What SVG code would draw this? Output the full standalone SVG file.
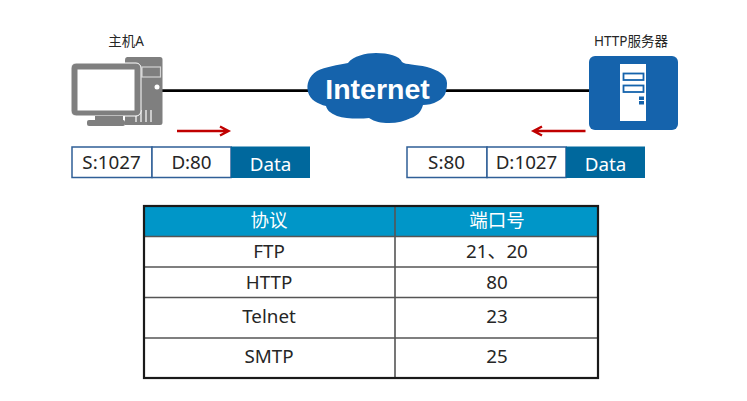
<svg xmlns="http://www.w3.org/2000/svg" width="747" height="401" viewBox="0 0 747 401">
<defs>
<style>
text{font-family:"Noto Sans","Noto Sans CJK SC",sans-serif;text-anchor:middle;fill:#262626}
.lab{font-size:13.500px}
.f{font-size:18.800px}
.cell{fill:#fff;stroke:#2f5f97;stroke-width:1.500}
.data{fill:#00689d}
.dt{fill:#fff;font-size:18.800px}
.wire{stroke:#000;stroke-width:2.800;fill:none}
.red{stroke:#c00000;stroke-width:2.400;fill:none}
.g{fill:#7f7f7f}
.b{fill:#1563ac}
.slot{fill:#fff;stroke:#1563ac;stroke-width:1.800}
.t{font-size:18.800px}
.h{fill:#fff;font-size:18.500px}
.grid{stroke:#555;stroke-width:1.600;fill:none}
</style>
</defs>
<rect width="747" height="401" fill="#fff"/>
<g id="connectors">
<line class="wire" x1="162" y1="90.700" x2="312" y2="90.700"/>
<line class="wire" x1="444" y1="90.700" x2="590" y2="90.700"/>
<path class="red" d="M177 131H228M220 126.500L228.500 131L220 135.500"/>
<path class="red" d="M585.500 131H534M542 126.500L533.500 131L542 135.500"/>
</g>
<g id="host-a">
<text class="lab" x="126" y="46">主机A</text>
<path class="g" d="M127 57h33a2.500 2.500 0 0 1 2.500 2.500v63a2.500 2.500 0 0 1-2.500 2.500h-35V60a3 3 0 0 1 2-3z"/>
<rect x="142" y="67" width="18.500" height="10" fill="none" stroke="#fff" stroke-opacity=".65" stroke-width="1.200"/>
<circle cx="157" cy="87" r="2.500" fill="#fff"/>
<path d="M136 112v10M141 110v12M146 110v12M151 110v12" stroke="#fff" stroke-width="1.500" opacity=".8"/>
<rect x="71" y="63" width="70" height="53" rx="5" class="g" stroke="#fff" stroke-width="1"/>
<rect x="77.500" y="69.500" width="57" height="41" fill="#fff"/>
<rect x="95" y="116" width="28" height="4" class="g"/>
<rect x="87" y="120" width="38" height="6" rx="2" class="g"/>
</g>
<g id="internet">
<path class="b" d="M348 63C353 56 366 53 376 53C388 53 400 56 402 62C406 65 415 64 427 67C438 70 447 75 447 83C447 93 444 98 438 101C433 104 427 105 423 105C421 112 417 116 411 118C405 121 397 123 389 123C381 123 375 122 369 118C360 119 346 119 337 116C330 113 327 110 326 106C318 104 310 100 308 92C306 84 309 76 317 71C325 67 338 65 348 63Z"/>
<text x="377.500" y="99" style="font-family:'Liberation Sans',sans-serif;font-weight:700;font-size:28.500px;fill:#fff">Internet</text>
</g>
<g id="http-server">
<text class="lab" x="631" y="46">HTTP服务器</text>
<rect class="b" x="589" y="56" width="89" height="74" rx="6"/>
<rect x="620" y="64" width="26" height="57" fill="#fff"/>
<rect class="slot" x="623.500" y="73.500" width="20" height="6.500"/>
<rect class="slot" x="623.500" y="85.500" width="20" height="6.500"/>
<rect class="b" x="639" y="96.500" width="5" height="3.500"/>
<rect class="b" x="639" y="101" width="5" height="3.500"/>
</g>
<g id="packet-left">
<rect class="cell" x="72" y="147" width="80" height="30.500"/>
<rect class="cell" x="152" y="147" width="79" height="30.500"/>
<rect class="data" x="231" y="146.500" width="79" height="31.500"/>
<text class="f" x="111.500" y="169">S:1027</text>
<text class="f" x="191.500" y="169">D:80</text>
<text class="dt" x="270.500" y="171">Data</text>
</g>
<g id="packet-right">
<rect class="cell" x="407" y="147" width="80" height="30.500"/>
<rect class="cell" x="487" y="147" width="79" height="30.500"/>
<rect class="data" x="566" y="146.500" width="79" height="31.500"/>
<text class="f" x="446.500" y="169">S:80</text>
<text class="f" x="526.500" y="169">D:1027</text>
<text class="dt" x="605.500" y="171">Data</text>
</g>
<g id="port-table">
<rect x="144" y="206" width="454" height="30" fill="#0096c8"/>
<path class="grid" d="M144 236.500H598M144 267H598M144 297.500H598M144 338H598M395 206V378"/>
<rect x="144" y="206" width="454" height="172" fill="none" stroke="#1a1a1a" stroke-width="2.200"/>
<text class="h" x="269" y="227">协议</text>
<text class="h" x="497" y="227">端口号</text>
<text class="t" x="269" y="258">FTP</text>
<text class="t" x="497" y="258">21、20</text>
<text class="t" x="269" y="288.500">HTTP</text>
<text class="t" x="497" y="288.500">80</text>
<text class="t" x="269" y="323">Telnet</text>
<text class="t" x="497" y="323">23</text>
<text class="t" x="269" y="363">SMTP</text>
<text class="t" x="497" y="363">25</text>
</g>
</svg>
